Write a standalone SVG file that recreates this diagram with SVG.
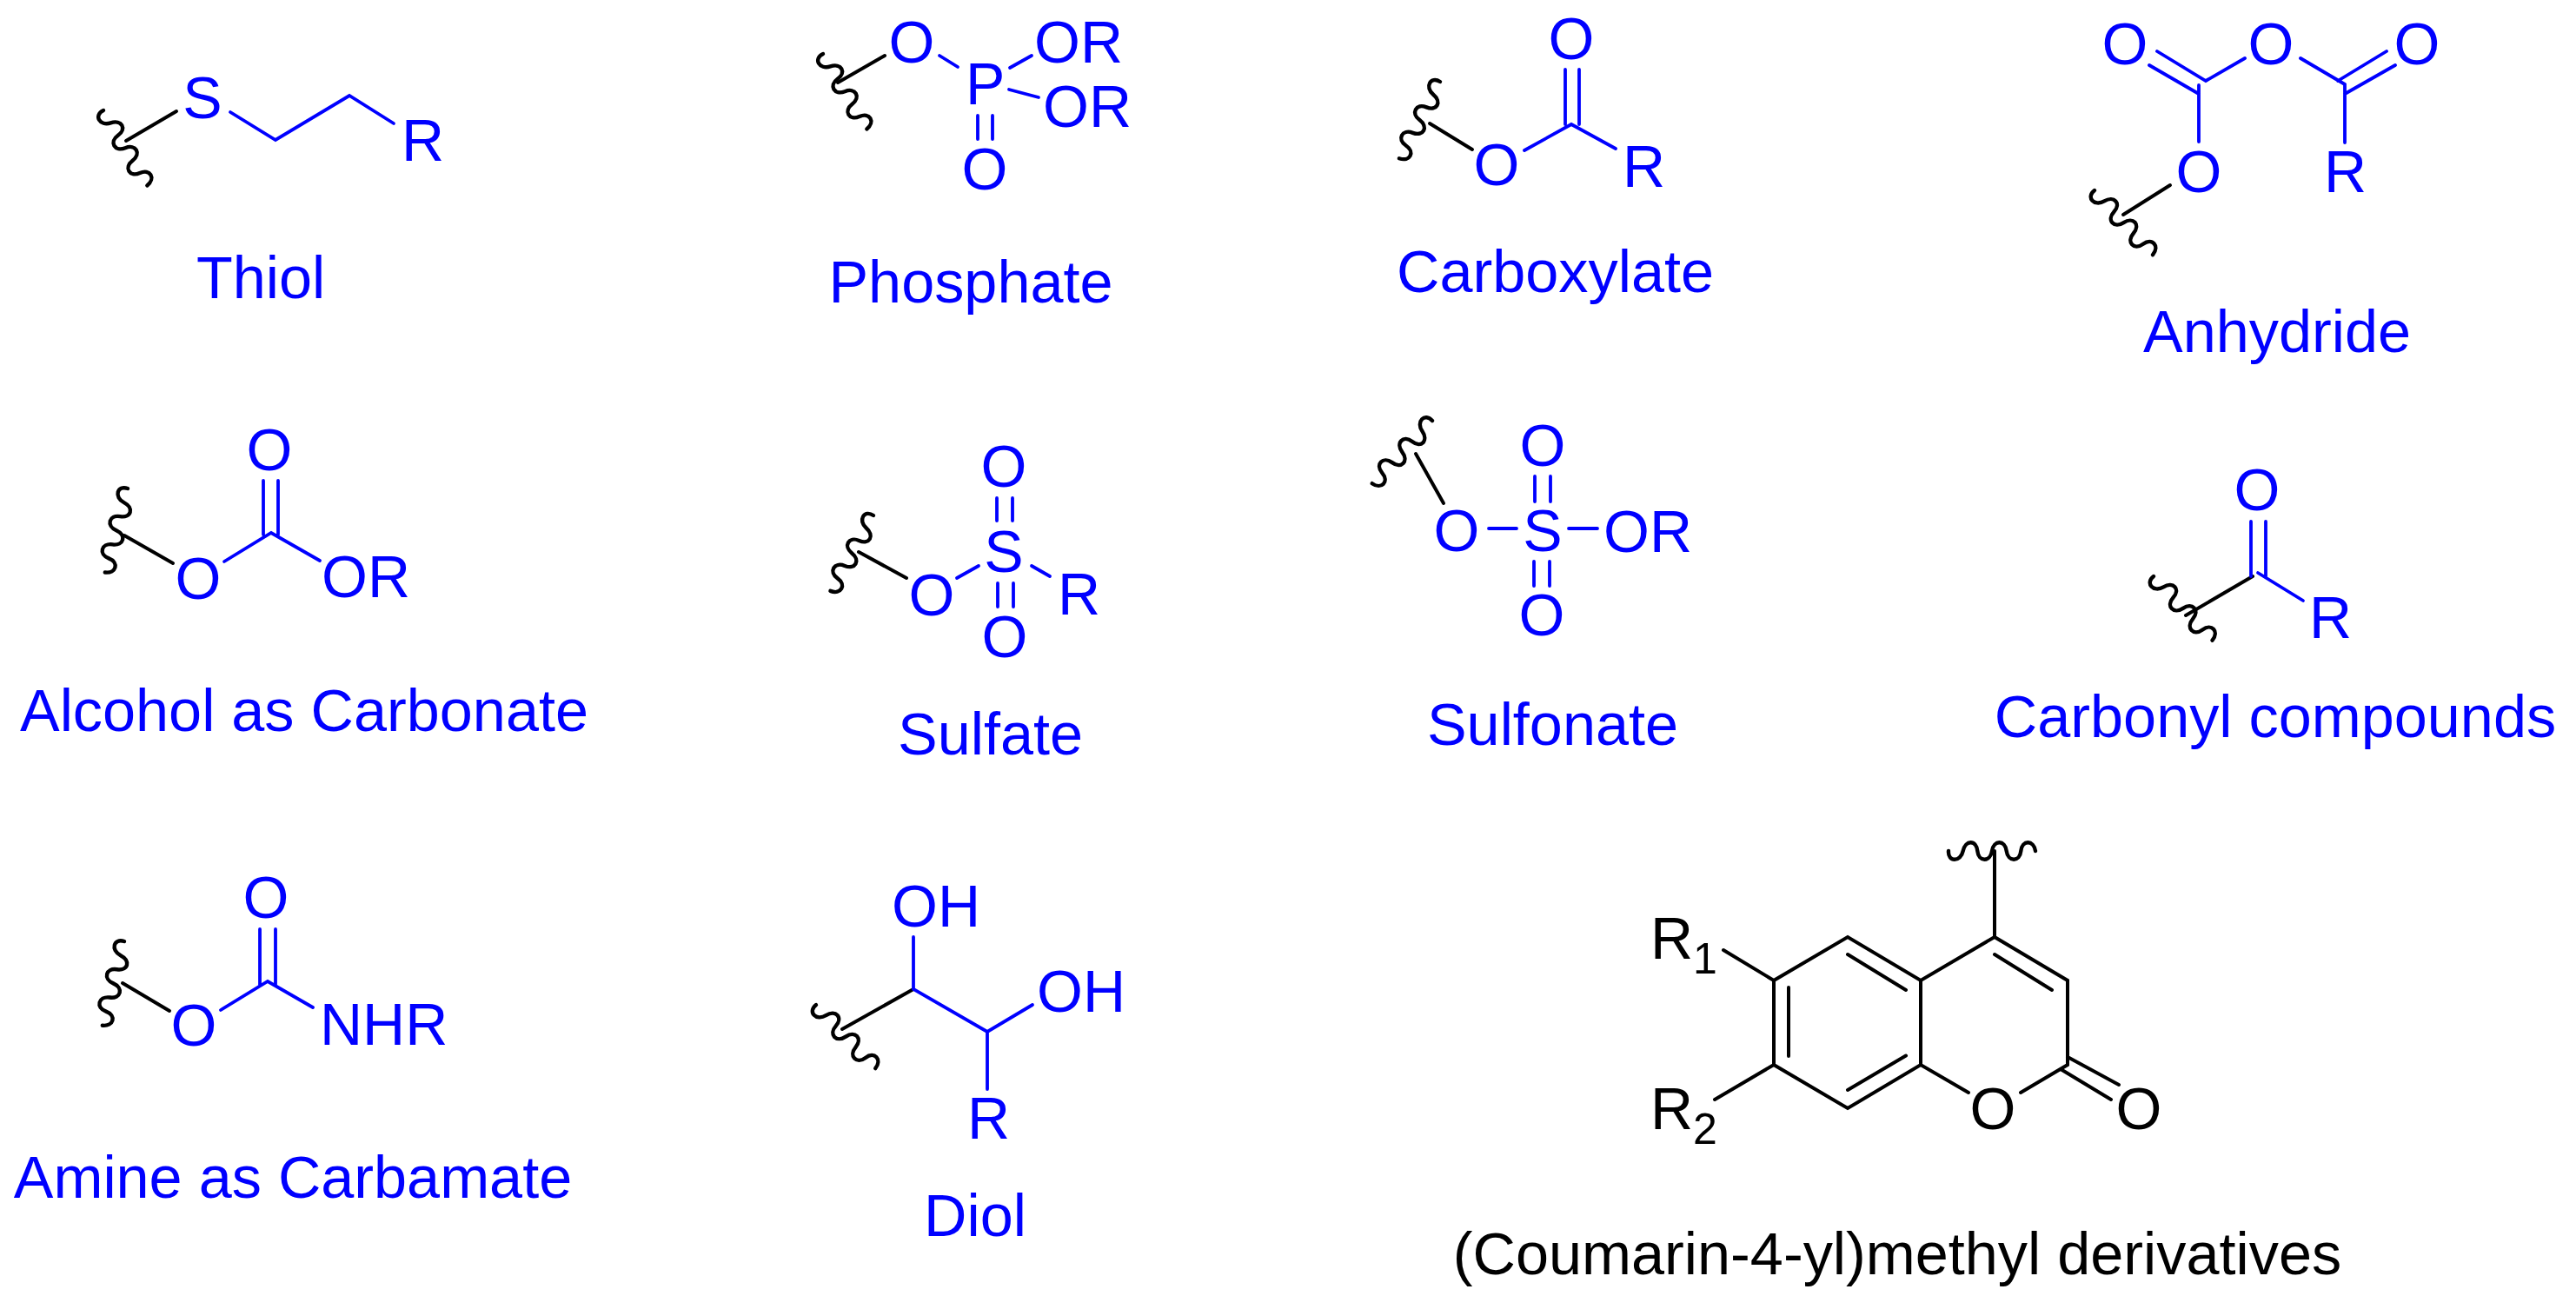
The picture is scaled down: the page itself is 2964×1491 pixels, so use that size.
<svg xmlns="http://www.w3.org/2000/svg" xmlns:xlink="http://www.w3.org/1999/xlink" width="2964" height="1491" viewBox="0 0 2964 1491">
<style>
text{font-family:"Liberation Sans",Arial,sans-serif;font-size:68px;fill:#0000ff}
.c{font-size:68.4px}
.m{text-anchor:middle}
.k{fill:#000}
.s{font-size:50px}
.b{fill:none;stroke:#0000ff;stroke-width:3.8;stroke-linecap:round;stroke-linejoin:miter}
.n{fill:none;stroke:#000;stroke-width:4;stroke-linecap:round;stroke-linejoin:miter}
.w{fill:none;stroke:#000;stroke-width:4.4;stroke-linecap:round}
</style>
<defs>
<path id="wave" d="M0 0C-1 13 14 13 16.7 0S32 -13 33.300 0S48 13 50 0S65 -13 66.700 0S82 13 83.300 0S98 -13 100 0"/>
</defs>
<rect width="2964" height="1491" fill="#fff"/>
<g id="thiol">
<use href="#wave" class="w" transform="translate(119 127) rotate(59.8)"/>
<path class="n" d="M203 128L145 162"/>
<path class="b" d="M265 129L317 161L402 110L453 142"/>
<text class="m" x="233" y="136">S</text><text x="462" y="185">R</text>
<text class="m c" x="300" y="343">Thiol</text>
</g>
<g id="phosphate">
<use href="#wave" class="w" transform="translate(947 62) rotate(59.8)"/>
<path class="n" d="M1018 64L964 95"/>
<path class="b" d="M1081 64L1102 77M1162 78L1187 64M1161 103L1195 112M1125 133V160M1142 133V160"/>
<text class="m" x="1049" y="72">O</text><text x="1111" y="120">P</text><text x="1190" y="72">OR</text><text x="1200" y="146">OR</text><text class="m" x="1133" y="218">O</text>
<text class="m c" x="1117" y="348">Phosphate</text>
</g>
<g id="carboxylate">
<use href="#wave" class="w" transform="translate(1657 94) rotate(118.1)"/>
<path class="n" d="M1645 142L1694 172"/>
<path class="b" d="M1754 173L1808 143L1859 171M1801 80V143M1817 80V143"/>
<text class="m" x="1808" y="68">O</text><text class="m" x="1722" y="213">O</text><text x="1867" y="215">R</text>
<text class="m c" x="1789.500" y="336">Carboxylate</text>
</g>
<g id="anhydride">
<use href="#wave" class="w" transform="translate(2410 219) rotate(47.9)"/>
<path class="n" d="M2497 213L2443 247"/>
<path class="b" d="M2482 59L2538 93L2583 67M2473 75L2530 108M2530 98V163M2647 67L2698 97M2746 59L2690 93M2756 75L2698 108M2698 97V164"/>
<text class="m" x="2445" y="74">O</text><text class="m" x="2613" y="74">O</text><text class="m" x="2781" y="74">O</text><text class="m" x="2530" y="221">O</text><text x="2674" y="221">R</text>
<text class="m c" x="2620" y="405">Anhydride</text>
</g>
<g id="carbonate">
<use href="#wave" class="w" transform="translate(147 562) rotate(105.2)"/>
<path class="n" d="M143 616L199 648"/>
<path class="b" d="M258 646L312 613L368 645M303 553V615M320 553V615"/>
<text class="m" x="310" y="541">O</text><text class="m" x="228" y="689">O</text><text x="370" y="687">OR</text>
<text class="m c" x="350" y="841">Alcohol as Carbonate</text>
</g>
<g id="sulfate">
<use href="#wave" class="w" transform="translate(1005 593) rotate(119.7)"/>
<path class="n" d="M988 635L1043 665"/>
<path class="b" d="M1101 665L1126 651M1187 651L1208 663M1147 573V599M1165 573V599M1148 671V698M1166 671V698"/>
<text class="m" x="1155" y="560">O</text><text class="m" x="1155" y="658">S</text><text class="m" x="1072" y="708">O</text><text x="1217" y="707">R</text><text class="m" x="1156" y="756">O</text>
<text class="m c" x="1139.500" y="868">Sulfate</text>
</g>
<g id="sulfonate">
<use href="#wave" class="w" transform="translate(1648 484) rotate(133.8)"/>
<path class="n" d="M1629 522L1661 579"/>
<path class="b" d="M1766 548V577M1784 548V577M1713 608H1745M1805 608H1838M1765 646V674M1783 646V674"/>
<text class="m" x="1775" y="536">O</text><text class="m" x="1775" y="634">S</text><text class="m" x="1676" y="634">O</text><text x="1845" y="635">OR</text><text class="m" x="1774" y="731">O</text>
<text class="m c" x="1786.500" y="857">Sulfonate</text>
</g>
<g id="carbonyl">
<use href="#wave" class="w" transform="translate(2478 663) rotate(47.5)"/>
<path class="n" d="M2592 663L2515 708"/>
<path class="b" d="M2598 659L2650 691M2590 600V663M2607 600V663"/>
<text class="m" x="2597" y="587">O</text><text x="2657" y="734">R</text>
<text class="m c" x="2618" y="848">Carbonyl compounds</text>
</g>
<g id="carbamate">
<use href="#wave" class="w" transform="translate(143 1083) rotate(104.6)"/>
<path class="n" d="M141 1131L195 1163"/>
<path class="b" d="M254 1162L308 1129L360 1159M299 1069V1133M317 1069V1133"/>
<text class="m" x="306" y="1056">O</text><text class="m" x="223" y="1203">O</text><text x="368" y="1202">NHR</text>
<text class="m c" x="337" y="1378">Amine as Carbamate</text>
</g>
<g id="diol">
<use href="#wave" class="w" transform="translate(939 1156) rotate(47)"/>
<path class="n" d="M1051 1138L969 1184"/>
<path class="b" d="M1051 1078V1138L1136 1187L1188 1156M1136 1187V1253"/>
<text x="1026" y="1066">OH</text><text x="1193" y="1164">OH</text><text x="1113" y="1310">R</text>
<text class="m c" x="1122" y="1422">Diol</text>
</g>
<g id="coumarin">
<use href="#wave" class="w" transform="translate(2242 979)"/>
<path class="n" d="M2295 979V1078L2379 1128V1225L2325 1257M2295 1078L2210 1128L2126 1078L2041 1128V1225L2126 1275L2210 1225L2265 1257M2210 1128V1225M2058 1136V1215M2126 1098L2193 1139M2126 1254L2193 1214.500M2295 1098L2361 1139M2379 1216L2438 1248M2371 1230L2429 1265M1983 1093L2041 1128M1973 1265L2041 1225"/>
<text class="k" x="1899" y="1103">R<tspan class="s" dy="17">1</tspan></text>
<text class="k" x="1899" y="1299">R<tspan class="s" dy="17">2</tspan></text>
<text class="k m" x="2293" y="1299">O</text><text class="k m" x="2461" y="1299">O</text>
<text class="k m c" x="2183" y="1466">(Coumarin-4-yl)methyl derivatives</text>
</g>
</svg>
